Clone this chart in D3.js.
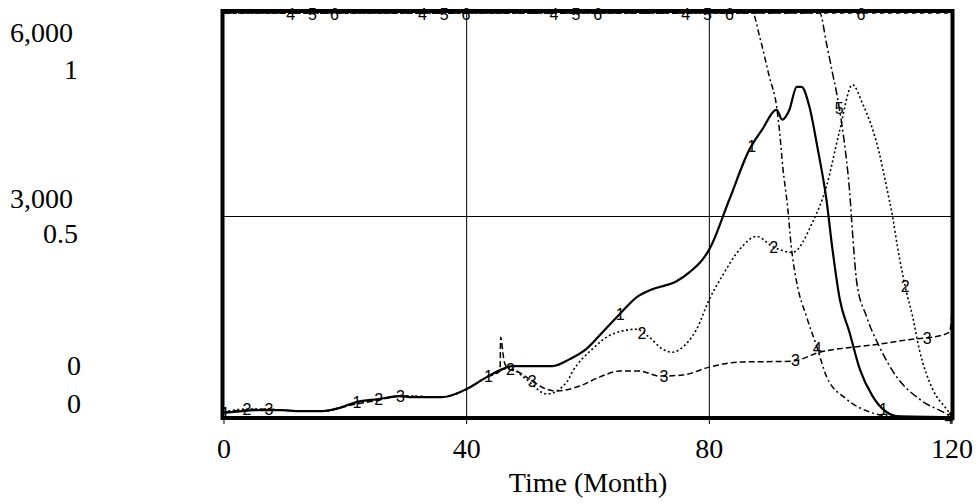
<!DOCTYPE html>
<html>
<head>
<meta charset="utf-8">
<script src="https://cdn.jsdelivr.net/npm/d3@7"></script>
<style>
  html, body { margin: 0; padding: 0; background: #fff; }
  svg { display: block; }
  .tick-label { font-family: "Liberation Serif", "Times New Roman", serif; font-size: 28px; fill: #000; }
  .series-label { font-family: "Liberation Sans", Arial, sans-serif; font-size: 16px; fill: #000; }
</style>
</head>
<body>
<div id="chart"></div>
<script>
'use strict';

// x axis
const xTicks = [0, 40, 80, 120];
const xTitle = 'Time (Month)';

// two left scales (Vensim style)
const scaleATicks = [6000, 3000, 0];
const scaleALabels = ['6,000', '3,000', '0'];
const scaleBTicks = [1, 0.5, 0];
const scaleBLabels = ['1', '0.5', '0'];

// series 1-3 on scale A, 4-6 on scale B (values > 1 run off the top)
const series1T = [0, 5.8, 9.6, 12.4, 16.2, 19, 21.8, 25.6, 28.9, 31.1, 36, 40, 43.3, 45.9, 47.5, 54.1, 57, 59.7, 62.4, 65.2, 68, 70.6, 74.6, 76.7, 78.9, 80, 83.3, 86.6, 88.7, 91.1, 92, 93.2, 94.4, 95.2, 96.5, 97.8, 99.3, 100.3, 101.5, 103.1, 104.8, 106.9, 109.2, 110.8, 120];
const series1V = [74, 118, 118, 103, 103, 148, 236, 281, 325, 310, 310, 429, 606, 724, 769, 769, 872, 1020, 1271, 1537, 1788, 1907, 2025, 2158, 2350, 2498, 3237, 3976, 4271, 4567, 4419, 4567, 4907, 4907, 4611, 4020, 3237, 2498, 1759, 1271, 724, 325, 89, 30, 15];

const series2T = [0, 3.7, 9.6, 12.4, 16.2, 21.8, 25.6, 28.9, 36, 40, 43.3, 47, 49.8, 53.2, 56.5, 57.4, 60.7, 64, 68, 70.1, 72.3, 73.9, 75.6, 77.9, 80, 82.1, 85, 87.8, 90.4, 93.7, 97, 99.3, 101.4, 103.6, 105.2, 108, 109.2, 110.2, 111, 112.5, 113.5, 114.6, 116.8, 119.1, 120];
const series2V = [89, 133, 118, 103, 103, 222, 281, 325, 310, 429, 606, 739, 576, 355, 532, 680, 1020, 1242, 1315, 1197, 1020, 975, 1049, 1315, 1759, 2099, 2498, 2690, 2542, 2453, 2897, 3429, 4227, 4937, 4670, 3931, 3429, 2986, 2542, 1862, 1508, 1020, 429, 133, 30];

const series3T = [0, 7.2, 9.6, 12.4, 16.2, 21.8, 25.6, 28.9, 36, 40, 43.3, 45.5, 45.6, 46.2, 47, 48.2, 50.8, 53.1, 54.8, 58.6, 61.9, 65.2, 68.5, 71.8, 75.6, 80, 85, 93.7, 98.2, 103.6, 108, 113.5, 116.8, 119.6, 120];
const series3V = [89, 133, 118, 103, 103, 207, 266, 325, 310, 429, 606, 695, 1197, 828, 720, 695, 547, 429, 399, 473, 606, 695, 695, 621, 636, 754, 828, 842, 975, 1049, 1094, 1168, 1197, 1271, 1581];

const series4T = [0, 86.5, 87.1, 88.3, 89.9, 91.1, 91.6, 92.1, 92.9, 93.5, 94.4, 96, 97.7, 99.3, 102.6, 106.4, 109.2, 120];
const series4V = [1.5, 1.1, 1.0, 0.941, 0.842, 0.768, 0.704, 0.621, 0.522, 0.424, 0.335, 0.251, 0.177, 0.103, 0.047, 0.015, 0.005, 0];

const series5T = [0, 97.6, 98.2, 99.3, 100.3, 101.1, 101.9, 102.6, 103.1, 103.6, 104.3, 105.9, 108, 110.8, 114.6, 119.1, 120];
const series5V = [1.5, 1.1, 1.0, 0.926, 0.852, 0.793, 0.719, 0.638, 0.564, 0.458, 0.335, 0.251, 0.177, 0.103, 0.047, 0.010, 0.002];

const series6T = [0, 120];
const series6V = [1.5, 1.5];

const width = 976, height = 504;
const plot = { left: 222.5, right: 952.5, top: 11, bottom: 418 };

const x = d3.scaleLinear().domain([0, 120]).range([224, 952]);
const yA = d3.scaleLinear().domain([0, 6000]).range([418, 13]);
const yB = d3.scaleLinear().domain([0, 1]).range([418, 13]);

const series = [
  { id: 1, t: series1T, v: series1V, y: yA, width: 2.2, dash: null },
  { id: 2, t: series2T, v: series2V, y: yA, width: 1.6, dash: '2,2.5' },
  { id: 3, t: series3T, v: series3V, y: yA, width: 1.5, dash: '6,3' },
  { id: 4, t: series4T, v: series4V, y: yB, width: 1.5, dash: '6,3,2,3' },
  { id: 5, t: series5T, v: series5V, y: yB, width: 1.5, dash: '8,3,2,3' },
  { id: 6, t: series6T, v: series6V, y: yB, width: 1.5, dash: '4,4' }
];

const svg = d3.select('#chart').append('svg')
  .attr('width', width)
  .attr('height', height);

svg.append('defs').append('clipPath').attr('id', 'plot-clip')
  .append('rect')
  .attr('x', plot.left).attr('y', plot.top - 2)
  .attr('width', plot.right - plot.left).attr('height', plot.bottom - plot.top + 4);

// grid lines
svg.append('g').selectAll('line')
  .data(xTicks.slice(1, -1))
  .join('line')
  .attr('x1', d => x(d)).attr('x2', d => x(d))
  .attr('y1', plot.top).attr('y2', plot.bottom)
  .attr('stroke', '#000').attr('stroke-width', 1);

svg.append('line')
  .attr('x1', plot.left).attr('x2', plot.right)
  .attr('y1', yA(3000) + 1).attr('y2', yA(3000) + 1)
  .attr('stroke', '#000').attr('stroke-width', 1);

// small ticks under the bottom
svg.append('g').selectAll('line')
  .data(xTicks)
  .join('line')
  .attr('x1', d => x(d)).attr('x2', d => x(d))
  .attr('y1', plot.bottom).attr('y2', plot.bottom + 6)
  .attr('stroke', '#000').attr('stroke-width', 1);

// lines (values past the top are held at the edge)
const clampY = (s, v) => Math.min(plot.bottom, Math.max(plot.top + 2, s.y(v)));

const lineG = svg.append('g').attr('clip-path', 'url(#plot-clip)');
series.forEach(s => {
  const pts = s.t.map((t, i) => [t, s.v[i]]);
  const line = d3.line()
    .x(d => x(d[0]))
    .y(d => clampY(s, d[1]))
    .curve(d3.curveMonotoneX);
  lineG.append('path')
    .datum(pts)
    .attr('d', line)
    .attr('fill', 'none')
    .attr('stroke', '#000')
    .attr('stroke-width', s.width)
    .attr('stroke-dasharray', s.dash)
    .attr('stroke-linejoin', 'round');
});

// frame
svg.append('rect')
  .attr('x', plot.left).attr('y', plot.top)
  .attr('width', plot.right - plot.left)
  .attr('height', plot.bottom - plot.top)
  .attr('fill', 'none')
  .attr('stroke', '#000')
  .attr('stroke-width', 4);

// series number labels along each line
function valueAt(s, t) {
  const i = d3.bisectLeft(s.t, t);
  if (i <= 0) return s.v[0];
  if (i >= s.t.length) return s.v[s.v.length - 1];
  const t0 = s.t[i - 1], t1 = s.t[i];
  const k = (t - t0) / (t1 - t0);
  return s.v[i - 1] + k * (s.v[i] - s.v[i - 1]);
}

const labelStep = 21.7;
const labelShift = 3.6;
series.forEach((s, k) => {
  const ts = d3.range(0.2 + k * labelShift, 120.01, labelStep);
  svg.append('g').selectAll('text')
    .data(ts)
    .join('text')
    .attr('class', 'series-label')
    .attr('x', d => x(d))
    .attr('y', d => Math.max(plot.top + 3, clampY(s, valueAt(s, d))) + 6)
    .attr('text-anchor', 'middle')
    .text(s.id);
});

// x axis labels
svg.append('g').selectAll('text')
  .data(xTicks)
  .join('text')
  .attr('class', 'tick-label')
  .attr('x', d => x(d))
  .attr('y', 458)
  .attr('text-anchor', 'middle')
  .text(d => d);

svg.append('text')
  .attr('class', 'tick-label')
  .attr('x', x(60))
  .attr('y', 492)
  .attr('text-anchor', 'middle')
  .text(xTitle);

// left labels: two stacked scales
const offA = [29, -8, -43];
const offB = [66, 27, -5];
svg.append('g').selectAll('text')
  .data(scaleATicks)
  .join('text')
  .attr('class', 'tick-label')
  .attr('x', (d, i) => i === 2 ? 81 : 73)
  .attr('y', (d, i) => yA(d) + offA[i])
  .attr('text-anchor', 'end')
  .text((d, i) => scaleALabels[i]);

svg.append('g').selectAll('text')
  .data(scaleBTicks)
  .join('text')
  .attr('class', 'tick-label')
  .attr('x', (d, i) => i === 2 ? 81 : 78)
  .attr('y', (d, i) => yB(d) + offB[i])
  .attr('text-anchor', 'end')
  .text((d, i) => scaleBLabels[i]);
</script>
</body>
</html>
